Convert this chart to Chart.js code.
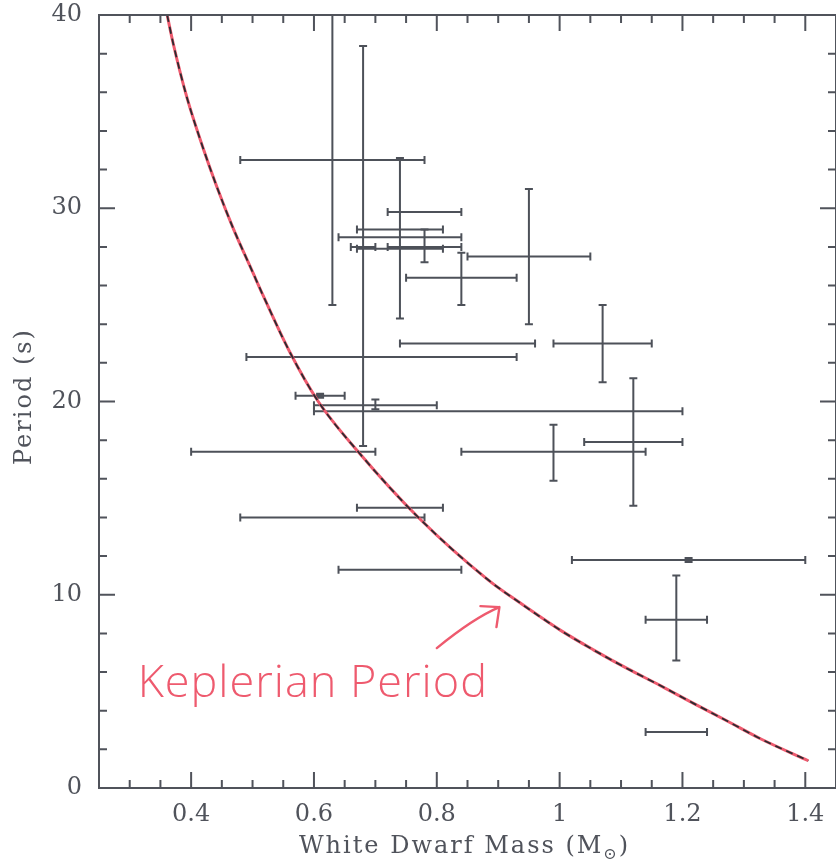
<!DOCTYPE html>
<html>
<head>
<meta charset="utf-8">
<title>Period vs White Dwarf Mass</title>
<script src="https://cdn.jsdelivr.net/npm/chart.js@4.4.0/dist/chart.umd.min.js"></script>
<style>
  html, body { margin: 0; padding: 0; background: #fff; }
  #wrap { width: 836px; height: 863px; }
</style>
</head>
<body>
<div id="wrap"><canvas id="chart" width="836" height="863"></canvas></div>
<script>
// Observed systems: centre value and error range on each axis (null = no bar)
const massCenter  = [0.63, 0.68, 0.74, 0.78, 0.78, 0.74, 0.74, 0.84, 0.95, 0.85, 0.71, 1.07, 0.61, 0.70, 0.90, 1.12, 0.99, 0.55, 0.74, 0.63, 0.74, 1.21, 1.19, 1.19];
const massLow     = [0.48, 0.66, 0.64, 0.72, 0.72, 0.67, 0.67, 0.75, 0.85, 0.74, 0.49, 0.99, 0.57, 0.60, 0.60, 1.04, 0.84, 0.40, 0.67, 0.48, 0.64, 1.02, 1.14, 1.14];
const massHigh    = [0.78, 0.70, 0.84, 0.84, 0.84, 0.81, 0.81, 0.93, 1.05, 0.96, 0.93, 1.15, 0.65, 0.80, 1.20, 1.20, 1.14, 0.70, 0.81, 0.78, 0.84, 1.40, 1.24, 1.24];
const periodCenter = [32.5, 28.0, 28.5, 28.0, 29.8, 28.9, 27.9, 26.4, 27.5, 23.0, 22.3, 23.0, 20.3, 19.8, 19.5, 17.9, 17.4, 17.4, 14.5, 14.0, 11.3, 11.8, 8.7, 2.9];
const periodLow   = [25.0, 17.7, 24.3, 27.2, null, null, null, 25.0, 24.0, null, null, 21.0, 20.2, 19.6, null, 14.6, 15.9, null, null, null, null, 11.7, 6.6, null];
const periodHigh  = [40.0, 38.4, 32.6, 28.9, null, null, null, 27.7, 31.0, null, null, 25.0, 20.4, 20.1, null, 21.2, 18.8, null, null, null, null, 11.9, 11.0, null];

// Keplerian period curve
const curveMass   = [0.361, 0.371, 0.393, 0.419, 0.442, 0.468, 0.501, 0.517, 0.56, 0.607, 0.672, 0.77, 0.884, 0.936, 1.001, 1.055, 1.109, 1.164, 1.218, 1.272, 1.327, 1.405];
const curvePeriod = [40.0, 38.5, 35.75, 33.16, 31.1, 29.0, 26.64, 25.5, 22.6, 20.0, 17.4, 14.0, 10.76, 9.57, 8.17, 7.15, 6.2, 5.3, 4.38, 3.48, 2.55, 1.41];

const xTicks = [0.4, 0.6, 0.8, 1, 1.2, 1.4];
const yTicks = [0, 10, 20, 30, 40];

const INK = '#50535b';
const RED = '#ee5a6e';
const SERIF = '"DejaVu Serif", "Liberation Serif", serif';

const curvePoints = curveMass.map((m, i) => ({ x: m, y: curvePeriod[i] }));

// error bars sit beneath the curve
const errorBars = {
  id: 'errorBars',
  beforeDatasetsDraw(chart) {
    const { ctx, chartArea: a, scales: { x, y } } = chart;
    const cap = 4;
    ctx.save();
    ctx.beginPath();
    ctx.rect(a.left, a.top, a.right - a.left, a.bottom - a.top);
    ctx.clip();
    ctx.strokeStyle = '#4d5159';
    ctx.lineWidth = 2;
    ctx.lineCap = 'butt';
    massCenter.forEach((m, i) => {
      const cx = x.getPixelForValue(m);
      const cy = y.getPixelForValue(periodCenter[i]);
      ctx.beginPath();
      if (massLow[i] != null) {
        const x0 = x.getPixelForValue(massLow[i]);
        const x1 = x.getPixelForValue(massHigh[i]);
        ctx.moveTo(x0, cy); ctx.lineTo(x1, cy);
        ctx.moveTo(x0, cy - cap); ctx.lineTo(x0, cy + cap);
        ctx.moveTo(x1, cy - cap); ctx.lineTo(x1, cy + cap);
      }
      if (periodLow[i] != null) {
        const y0 = y.getPixelForValue(periodLow[i]);
        const y1 = y.getPixelForValue(periodHigh[i]);
        ctx.moveTo(cx, y0); ctx.lineTo(cx, y1);
        ctx.moveTo(cx - cap, y0); ctx.lineTo(cx + cap, y0);
        ctx.moveTo(cx - cap, y1); ctx.lineTo(cx + cap, y1);
      }
      ctx.stroke();
    });
    ctx.restore();
  }
};

// box frame with inward ticks on all four sides, plus axis titles
const frameTicks = {
  id: 'frameTicks',
  afterDraw(chart) {
    const { ctx, chartArea: a, scales: { x, y } } = chart;
    ctx.save();
    ctx.strokeStyle = INK;
    ctx.lineWidth = 2;
    ctx.strokeRect(a.left, a.top, a.right - a.left, a.bottom - a.top);
    ctx.beginPath();
    for (let k = 0; k <= 24; k++) {
      const v = 0.25 + k * 0.05;
      const px = x.getPixelForValue(v);
      const len = xTicks.some(t => Math.abs(t - v) < 1e-6) ? 16 : 8;
      ctx.moveTo(px, a.bottom); ctx.lineTo(px, a.bottom - len);
      ctx.moveTo(px, a.top); ctx.lineTo(px, a.top + len);
    }
    for (let v = 0; v <= 40; v += 2) {
      const py = y.getPixelForValue(v);
      const len = v % 10 === 0 ? 16 : 8;
      ctx.moveTo(a.left, py); ctx.lineTo(a.left + len, py);
      ctx.moveTo(a.right, py); ctx.lineTo(a.right - len, py);
    }
    ctx.stroke();

    // axis titles
    ctx.fillStyle = INK;
    ctx.font = '24px ' + SERIF;
    ctx.letterSpacing = '2px';
    ctx.textBaseline = 'alphabetic';
    const main = 'White Dwarf Mass (M';
    const wMain = ctx.measureText(main).width;
    ctx.font = '16px ' + SERIF;
    const wSun = ctx.measureText('\u2299').width;
    ctx.font = '24px ' + SERIF;
    const wEnd = ctx.measureText(')').width;
    let tx = (a.left + a.right) / 2 - (wMain + wSun + wEnd) / 2 - 3;
    const ty = 853;
    ctx.textAlign = 'left';
    ctx.fillText(main, tx, ty);
    tx += wMain;
    ctx.font = '16px ' + SERIF;
    ctx.fillText('\u2299', tx, ty + 6);
    tx += wSun;
    ctx.font = '24px ' + SERIF;
    ctx.fillText(')', tx, ty);

    ctx.save();
    ctx.translate(31, (a.top + a.bottom) / 2 - 5);
    ctx.rotate(-Math.PI / 2);
    ctx.textAlign = 'center';
    ctx.fillText('Period (s)', 0, 0);
    ctx.restore();
    ctx.restore();
  }
};

// hand-written label with an arrow pointing at the curve
const keplerLabel = {
  id: 'keplerLabel',
  afterDatasetsDraw(chart) {
    const { ctx, scales: { x, y } } = chart;
    ctx.save();
    ctx.fillStyle = RED;
    ctx.strokeStyle = RED;
    ctx.font = '300 45px "Open Sans", sans-serif';
    ctx.letterSpacing = '1px';
    ctx.textAlign = 'left';
    ctx.textBaseline = 'alphabetic';
    ctx.fillText('Keplerian Period', x.getPixelForValue(0.313), y.getPixelForValue(4.7));

    const sx = x.getPixelForValue(0.80), sy = y.getPixelForValue(7.24);
    const cx = x.getPixelForValue(0.86), cy = y.getPixelForValue(8.8);
    const ex = x.getPixelForValue(0.902), ey = y.getPixelForValue(9.36);
    ctx.lineWidth = 2.4;
    ctx.lineCap = 'round';
    ctx.lineJoin = 'round';
    ctx.beginPath();
    ctx.moveTo(sx, sy);
    ctx.quadraticCurveTo(cx, cy, ex, ey);
    ctx.moveTo(ex - 19, ey - 1);
    ctx.lineTo(ex, ey);
    ctx.lineTo(ex - 3, ey + 20);
    ctx.stroke();
    ctx.restore();
  }
};

function noScalePadding(s) {
  s.paddingTop = 0;
  s.paddingBottom = 0;
  s.paddingLeft = 0;
  s.paddingRight = 0;
}

new Chart(document.getElementById('chart'), {
  type: 'line',
  data: {
    datasets: [
      {
        data: curvePoints,
        borderColor: '#2a2c31',
        borderWidth: 1.8,
        borderDash: [7, 5],
        pointRadius: 0,
        cubicInterpolationMode: 'monotone',
        fill: false,
        order: 0
      },
      {
        data: curvePoints,
        borderColor: RED,
        borderWidth: 3,
        pointRadius: 0,
        cubicInterpolationMode: 'monotone',
        fill: false,
        order: 1
      }
    ]
  },
  options: {
    responsive: false,
    animation: false,
    devicePixelRatio: 1,
    layout: { padding: { top: 15, right: 0, left: 0, bottom: 0 } },
    plugins: { legend: { display: false }, tooltip: { enabled: false } },
    scales: {
      x: {
        type: 'linear',
        min: 0.25,
        max: 1.45,
        afterBuildTicks: s => { s.ticks = xTicks.map(v => ({ value: v })); },
        afterFit: s => { s.height = 75; noScalePadding(s); },
        grid: { display: false, drawTicks: false },
        border: { display: false },
        ticks: { color: INK, font: { family: SERIF, size: 24 }, padding: 12, maxRotation: 0, callback: v => String(v) }
      },
      y: {
        type: 'linear',
        min: 0,
        max: 40,
        afterBuildTicks: s => { s.ticks = yTicks.map(v => ({ value: v })); },
        afterFit: s => { s.width = 99; noScalePadding(s); },
        grid: { display: false, drawTicks: false },
        border: { display: false },
        ticks: { color: INK, font: { family: SERIF, size: 24 }, padding: 17, callback: v => String(v) }
      }
    }
  },
  plugins: [errorBars, keplerLabel, frameTicks]
});
</script>
</body>
</html>
